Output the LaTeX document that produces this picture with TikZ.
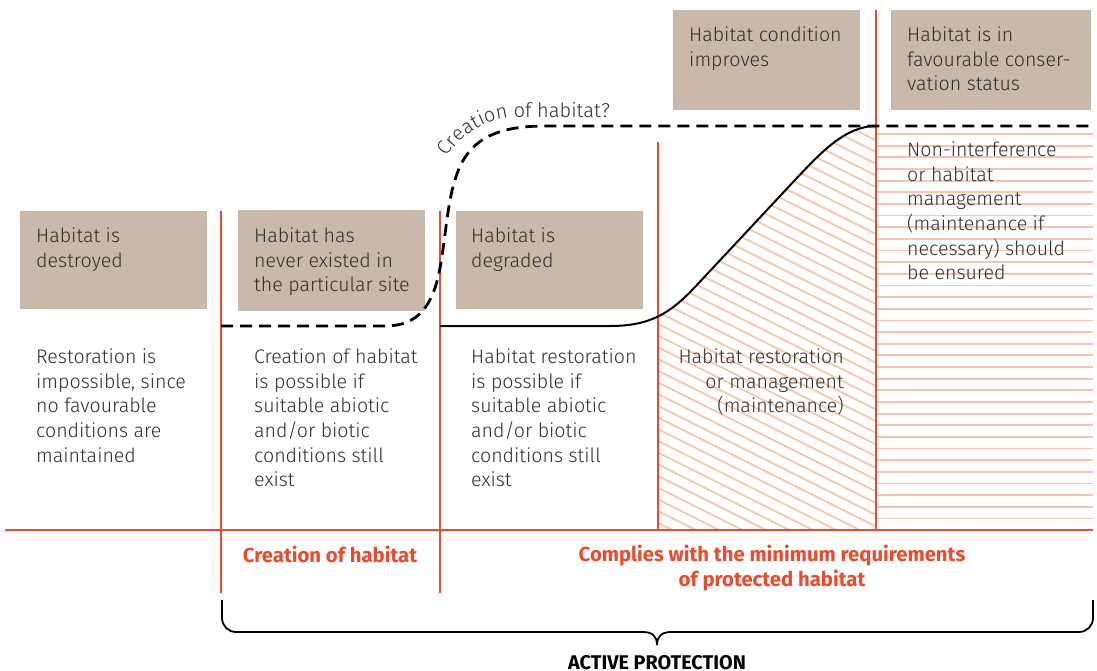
\documentclass[tikz,border=0pt]{standalone}
\usepackage{fontspec}
\setmainfont{Fira Sans}[UprightFont={* Light},BoldFont={* Bold}]
\usetikzlibrary{decorations.text}
\definecolor{redl}{HTML}{EB4A2C}
\definecolor{beige}{HTML}{C9B9AA}
\definecolor{hatchc}{HTML}{F9C5AF}
\definecolor{txtc}{HTML}{2E2E2E}
\begin{document}
\begin{tikzpicture}[x=1pt,y=-1pt,
  box/.style={fill=beige,draw=none,anchor=north west,inner sep=0pt},
  redline/.style={draw=redl,line width=2pt},
  hatchline/.style={draw=hatchc,line width=1.8pt},
  curveline/.style={draw=black,line width=2pt},
  dashline/.style={draw=black,line width=2.8pt,dash pattern=on 12pt off 7pt},
  txt/.style={anchor=north west,inner sep=0pt,align=left,text=txtc,
    font=\fontsize{19.6}{24.7}\selectfont,execute at begin node=\strut},
  txtr/.style={txt,anchor=north east,align=right},
  redlabel/.style={anchor=north,inner sep=0pt,align=center,text=redl,
    font=\bfseries\fontsize{20.3}{24.7}\selectfont,execute at begin node=\strut},
  blacklabel/.style={redlabel,text=black,font=\bfseries\fontsize{19.8}{24.7}\selectfont}]
\useasboundingbox (0,0) rectangle (1097,670);

% beige boxes
\node[box,minimum width=187pt,minimum height=98pt] (b1) at (20,211) {};
\node[box,minimum width=187pt,minimum height=101pt] (b2) at (238,210) {};
\node[box,minimum width=187pt,minimum height=98pt] (b3) at (456,211) {};
\node[box,minimum width=187pt,minimum height=100pt] (b4) at (673,10) {};
\node[box,minimum width=200pt,minimum height=100pt] (b5) at (891,10) {};

% diagonal hatching
\begin{scope}
  \clip (658,0) rectangle (876,530);
  \clip (440,326) -- (610,326) .. controls (650,326) and (670,313.5) .. (695,287)
        -- (795,180) .. controls (820,153.5) and (845,126) .. (876,126)
        -- (876,530) -- (440,530) -- cycle;
  \foreach \i in {0,...,46} {
    \draw[hatchline] (650,{4+\i*11.7}) -- ++(240,120);
  }
\end{scope}
% horizontal hatching
\foreach \i in {0,...,33} {
  \draw[hatchline] (877,{134+\i*11.65}) -- (1093,{134+\i*11.65});
}

% red lines
\coordinate (hl) at (5,530);
\coordinate (hr) at (1093,530);
\draw[redline] (hl) -- (hr);
\coordinate (v1t) at (221,211); \coordinate (v1b) at (221,593);
\coordinate (v2t) at (440,211); \coordinate (v2b) at (440,593);
\coordinate (v3t) at (658,142); \coordinate (v3b) at (658,530);
\coordinate (v4t) at (876,10);  \coordinate (v4b) at (876,530);
\draw[redline] (v1t) -- (v1b);
\draw[redline] (v2t) -- (v2b);
\draw[redline] (v3t) -- (v3b);
\draw[redline] (v4t) -- (v4b);

% solid curve
\coordinate (cs) at (440,326);
\coordinate (ce) at (876,126);
\draw[curveline] (cs) -- (610,326) .. controls (650,326) and (670,313.5) .. (695,287)
   -- (795,180) .. controls (820,153.5) and (845,126) .. (ce);

% dashed curve
\coordinate (ds) at (221,326);
\coordinate (de) at (1093,126);
\draw[dashline] (ds) -- (385,326) .. controls (418,326) and (433,306) .. (440,268)
   .. controls (446,235) and (447,205) .. (455,180)
   .. controls (466,142) and (492,126) .. (545,126) -- (de);

% curved label
\path[decorate,decoration={text along path,text align=left,
  text={|\fontsize{20}{24}\selectfont\color{txtc}|Creation of habitat?}}]
  (447,157) .. controls (466,129) and (490,117) .. (522,117) -- (670,117);

% box texts
\node[txt] (tb1) at (36,227.5) {Habitat is\\destroyed};
\node[txt] (tb2) at (254,227.5) {Habitat has\\never existed in\\the particular site};
\node[txt] (tb3) at (471,227.5) {Habitat is\\degraded};
\node[txt] (tb4) at (689,26.5) {Habitat condition\\improves};
\node[txt] (tb5) at (907,26.5) {Habitat is in\\favourable conser-\\vation status};

% body texts
\node[txt] (t1) at (36,348.5) {Restoration is\\impossible, since\\no favourable\\conditions are\\maintained};
\node[txt] (t2) at (254,348.5) {Creation of habitat\\is possible if\\suitable abiotic\\and/or biotic\\conditions still\\exist};
\node[txt] (t3) at (471,348.5) {Habitat restoration\\is possible if\\suitable abiotic\\and/or biotic\\conditions still\\exist};
\node[txtr] (t4) at (844,348.5) {Habitat restoration\\or management\\(maintenance)};
\node[txt] (t5) at (907,141.5) {Non-interference\\or habitat\\management\\(maintenance if\\necessary) should\\be ensured};

% red labels
\node[redlabel] (l1) at (330,544.7) {Creation of habitat};
\node[redlabel] (l2) at (772,544.7) {Complies with the minimum requirements\\of protected habitat};

% brace
\coordinate (bl) at (222,600);
\coordinate (br) at (1093,600);
\coordinate (bm) at (657,645);
\draw[black,line width=1.8pt,rounded corners=14pt] (bl) -- (222,632) -- (643,632);
\draw[black,line width=1.8pt] (643,632) .. controls (652,632) and (657,636) .. (bm)
   .. controls (657,636) and (662,632) .. (671,632);
\draw[black,line width=1.8pt,rounded corners=14pt] (671,632) -- (1093,632) -- (br);
\node[blacklabel] (ap) at (657,651.7) {ACTIVE PROTECTION};
\end{tikzpicture}
\end{document}
